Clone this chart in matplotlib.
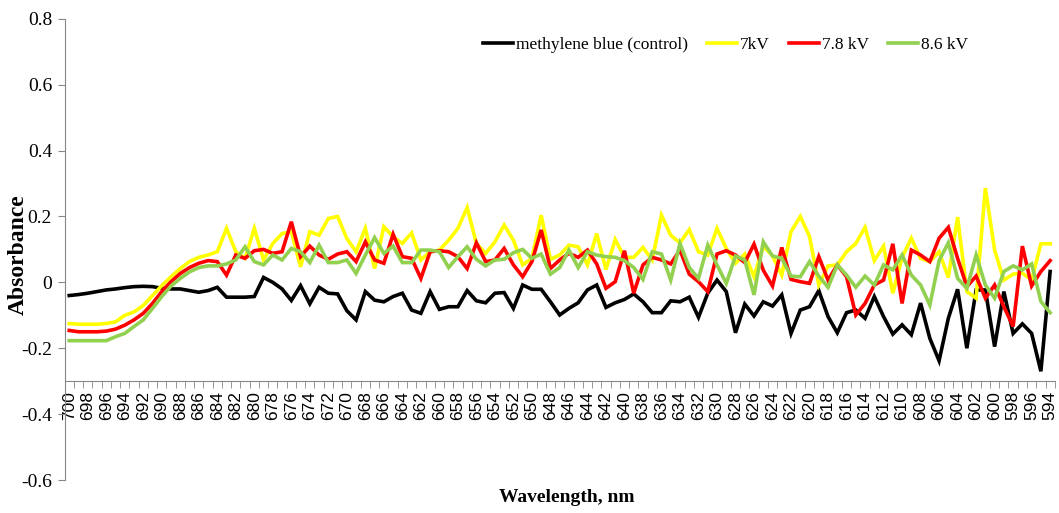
import matplotlib
matplotlib.use('Agg')
import matplotlib.pyplot as plt
import numpy as np

# wavelength categories, 700 -> 594 nm
wavelength = list(range(700, 593, -1))

control = [-0.04, -0.037, -0.033, -0.028, -0.023, -0.02, -0.016, -0.013, -0.012, -0.013,
           -0.018, -0.02, -0.02, -0.025, -0.03, -0.025, -0.015, -0.045, -0.045, -0.045,
           -0.043, 0.015, 0.0, -0.02, -0.055, -0.01, -0.065, -0.015, -0.033, -0.035,
           -0.086, -0.114, -0.028, -0.054, -0.059, -0.043, -0.033, -0.084, -0.094, -0.028,
           -0.082, -0.074, -0.074, -0.025, -0.056, -0.062, -0.033, -0.031, -0.079, -0.008,
           -0.021, -0.021, -0.059, -0.099, -0.079, -0.062, -0.023, -0.008, -0.076, -0.062,
           -0.052, -0.035, -0.059, -0.092, -0.092, -0.056, -0.059, -0.045, -0.106, -0.033,
           0.007, -0.028, -0.153, -0.066, -0.102, -0.059, -0.072, -0.038, -0.155, -0.084,
           -0.074, -0.025, -0.104, -0.153, -0.092, -0.084, -0.109, -0.043, -0.104, -0.157,
           -0.129, -0.159, -0.063, -0.17, -0.238, -0.109, -0.021, -0.2, -0.023, -0.023,
           -0.195, -0.028, -0.155, -0.126, -0.155, -0.27, 0.033]

kv7 = [-0.125, -0.127, -0.127, -0.127, -0.125, -0.12, -0.10, -0.09, -0.07, -0.04,
       -0.01, 0.017, 0.042, 0.063, 0.076, 0.083, 0.093, 0.164, 0.093, 0.073,
       0.164, 0.068, 0.118, 0.148, 0.154, 0.047, 0.154, 0.143, 0.194, 0.20,
       0.133, 0.093, 0.164, 0.042, 0.169, 0.138, 0.118, 0.15, 0.068, 0.093,
       0.098, 0.128, 0.164, 0.227, 0.118, 0.088, 0.123, 0.174, 0.128, 0.053,
       0.073, 0.204, 0.07, 0.083, 0.113, 0.108, 0.053, 0.148, 0.039, 0.13,
       0.076, 0.076, 0.106, 0.068, 0.204, 0.143, 0.12, 0.16, 0.093, 0.083,
       0.164, 0.103, 0.058, 0.086, 0.017, 0.11, 0.08, 0.022, 0.154, 0.2,
       0.139, -0.008, 0.05, 0.053, 0.093, 0.118, 0.167, 0.066, 0.11, -0.033,
       0.076, 0.134, 0.073, 0.063, 0.093, 0.015, 0.198, -0.028, -0.048, 0.286,
       0.098, 0.007, 0.025, 0.028, 0.007, 0.117, 0.117]

kv78 = [-0.146, -0.15, -0.15, -0.15, -0.148, -0.142, -0.13, -0.114, -0.094, -0.064,
        -0.028, 0.002, 0.027, 0.045, 0.058, 0.066, 0.063, 0.022, 0.083, 0.073,
        0.096, 0.10, 0.088, 0.093, 0.184, 0.078, 0.11, 0.083, 0.07, 0.086,
        0.093, 0.063, 0.123, 0.068, 0.058, 0.146, 0.078, 0.073, 0.012, 0.093,
        0.096, 0.093, 0.078, 0.042, 0.12, 0.063, 0.068, 0.103, 0.053, 0.017,
        0.063, 0.159, 0.042, 0.068, 0.088, 0.076, 0.098, 0.056, -0.018, 0.002,
        0.096, -0.033, 0.053, 0.076, 0.068, 0.056, 0.098, 0.025, 0.002, -0.028,
        0.086, 0.096, 0.083, 0.06, 0.116, 0.037, -0.011, 0.106, 0.009, 0.002,
        -0.003, 0.078, 0.007, 0.053, 0.017, -0.099, -0.064, -0.008, 0.007, 0.117,
        -0.064, 0.098, 0.083, 0.063, 0.134, 0.167, 0.073, -0.013, 0.019, -0.048,
        -0.008, -0.074, -0.134, 0.11, -0.011, 0.033, 0.066]

kv86 = [-0.177, -0.177, -0.177, -0.177, -0.177, -0.165, -0.155, -0.134, -0.114, -0.079,
        -0.043, -0.011, 0.012, 0.032, 0.045, 0.05, 0.05, 0.056, 0.068, 0.108,
        0.063, 0.053, 0.083, 0.068, 0.103, 0.093, 0.06, 0.113, 0.06, 0.06,
        0.068, 0.027, 0.083, 0.136, 0.088, 0.11, 0.06, 0.06, 0.098, 0.098,
        0.093, 0.045, 0.078, 0.108, 0.07, 0.05, 0.068, 0.07, 0.09, 0.10,
        0.073, 0.086, 0.025, 0.045, 0.098, 0.045, 0.093, 0.083, 0.078, 0.076,
        0.066, 0.045, 0.009, 0.093, 0.086, 0.007, 0.118, 0.045, 0.012, 0.113,
        0.053, -0.003, 0.08, 0.068, -0.038, 0.123, 0.08, 0.073, 0.019, 0.017,
        0.063, 0.019, -0.015, 0.053, 0.022, -0.015, 0.019, -0.008, 0.053, 0.038,
        0.083, 0.022, -0.008, -0.069, 0.066, 0.12, 0.012, -0.018, 0.083, -0.008,
        -0.048, 0.033, 0.05, 0.038, 0.056, -0.058, -0.092]

series_names = ['methylene blue (control)', '7kV', '7.8 kV', '8.6 kV']
series_colors = ['black', '#FFFF00', '#FF0000', '#92D050']

plt.rcParams['axes.unicode_minus'] = False
serif = 'Liberation Serif'
gray = '#868686'

fig = plt.figure(figsize=(10.59, 5.13), dpi=100)
ax = fig.add_axes([0.061, 0.0643, 0.935, 0.899])

x = np.arange(len(wavelength))
for vals, name, col in zip([control, kv7, kv78, kv86], series_names, series_colors):
    ax.plot(x, vals, color=col, lw=2.6, label=name, solid_joinstyle='miter')

ax.set_xlim(-0.5, len(x) - 0.5)
ax.set_ylim(-0.6, 0.8)

# y axis
yt = [-0.6, -0.4, -0.2, 0, 0.2, 0.4, 0.6, 0.8]
ax.set_yticks(yt)
ax.set_yticklabels(['-0.6', '-0.4', '-0.2', '0', '0.2', '0.4', '0.6', '0.8'],
                   fontfamily=serif, fontsize=14)
ax.tick_params(axis='y', length=5, color=gray, pad=4)

# category axis crossing at -0.3
ax.spines['top'].set_visible(False)
ax.spines['right'].set_visible(False)
ax.spines['left'].set_color(gray)
ax.spines['bottom'].set_color(gray)
ax.spines['bottom'].set_position(('data', -0.3))
ax.set_xticks(x[::2])
ax.set_xticklabels([str(w) for w in wavelength[::2]], rotation=90,
                   fontfamily='Liberation Sans', fontsize=12.5)
ax.tick_params(axis='x', which='major', length=0, pad=7)
ax.set_xticks(np.arange(-0.5, len(x), 1), minor=True)
ax.tick_params(axis='x', which='minor', length=5, color=gray)

fig.text(0.017, 0.503, 'Absorbance', rotation=90, ha='center', va='center',
         fontfamily=serif, fontweight='bold', fontsize=17)
fig.text(0.535, 0.031, 'Wavelength, nm', ha='center', va='center',
         fontfamily=serif, fontweight='bold', fontsize=14)

ax.legend(ncol=4, frameon=False, loc='upper left',
          bbox_to_anchor=(483 / 1059, 1 - 37 / 513), bbox_transform=fig.transFigure,
          prop={'family': serif, 'size': 12.5}, handlelength=1.75, handletextpad=0.15,
          columnspacing=1.1, borderpad=0, borderaxespad=0)

fig.savefig('out.png', dpi=100)
